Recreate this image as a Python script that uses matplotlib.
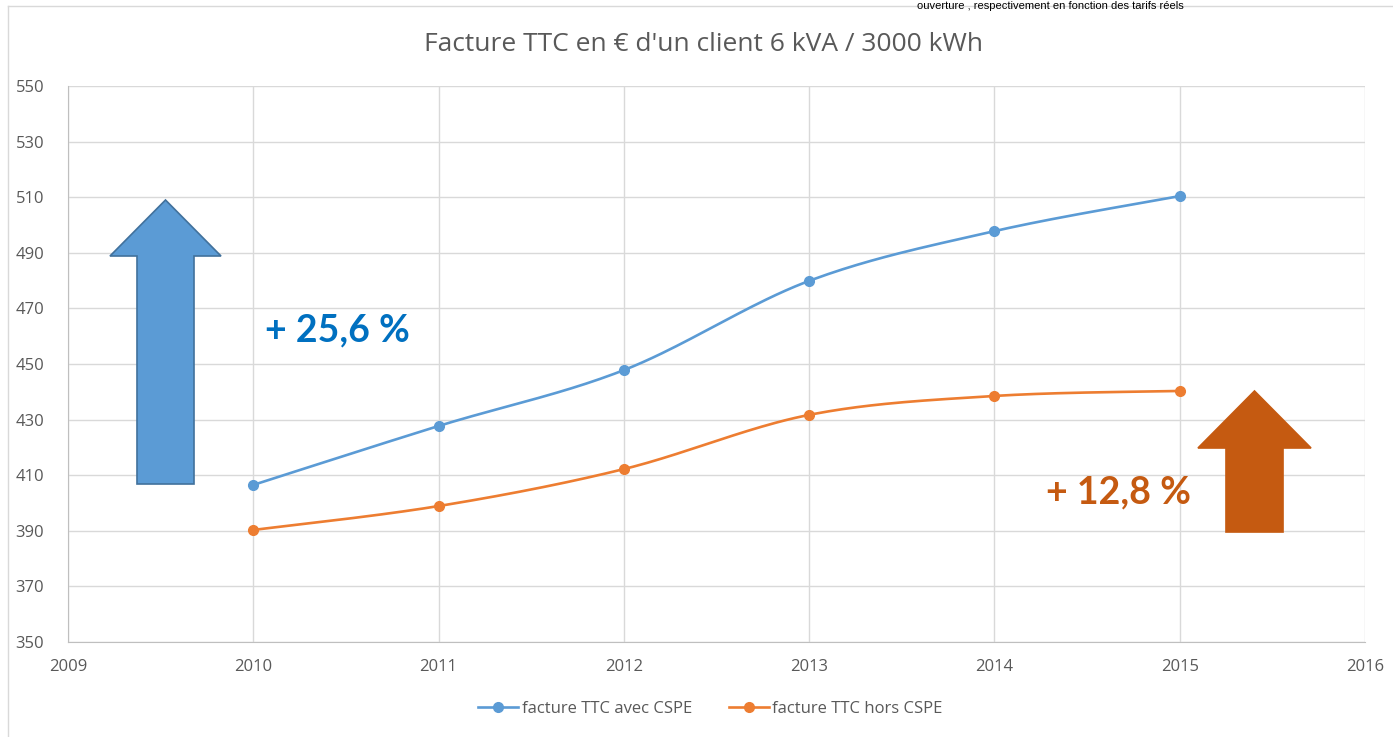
import numpy as np
import matplotlib
matplotlib.use("Agg")
import matplotlib.pyplot as plt
from matplotlib.patches import Polygon

plt.rcParams["font.family"] = ["Open Sans", "DejaVu Sans"]

# -------------------------
# données
# -------------------------
annees = [2010, 2011, 2012, 2013, 2014, 2015]
avec_cspe = [406.5, 427.7, 447.8, 479.9, 497.8, 510.4]
hors_cspe = [390.3, 398.9, 412.2, 431.7, 438.5, 440.3]
hausse_avec = "+ 25,6 %"
hausse_hors = "+ 12,8 %"
titre = "Facture TTC en € d'un client 6 kVA / 3000 kWh"

BLEU = "#5B9BD5"
ORANGE = "#ED7D31"
GRIS = "#595959"


def lisser(x, y, n=40):
    # courbe lissée façon Excel (Bezier / Catmull-Rom)
    x = np.asarray(x, float)
    y = np.asarray(y, float)
    px = np.concatenate([[x[0]], x, [x[-1]]])
    py = np.concatenate([[y[0]], y, [y[-1]]])
    xs, ys = [], []
    t = np.linspace(0, 1, n)
    for i in range(1, len(px) - 2):
        p0 = np.array([px[i], py[i]])
        p3 = np.array([px[i + 1], py[i + 1]])
        p1 = p0 + (np.array([px[i + 1], py[i + 1]]) - np.array([px[i - 1], py[i - 1]])) / 6
        p2 = p3 - (np.array([px[i + 2], py[i + 2]]) - np.array([px[i], py[i]])) / 6
        b = ((1 - t) ** 3)[:, None] * p0 + (3 * (1 - t) ** 2 * t)[:, None] * p1 \
            + (3 * (1 - t) * t ** 2)[:, None] * p2 + (t ** 3)[:, None] * p3
        xs.extend(b[:, 0])
        ys.extend(b[:, 1])
    return xs, ys


fig = plt.figure(figsize=(13.93, 7.37), dpi=100)
ax = fig.add_axes([0.0488, 0.1289, 0.9311, 0.7544])

for vals, coul, nom in [(avec_cspe, BLEU, "facture TTC avec CSPE"),
                        (hors_cspe, ORANGE, "facture TTC hors CSPE")]:
    sx, sy = lisser(annees, vals)
    ax.plot(sx, sy, color=coul, lw=1.9, solid_capstyle="round", zorder=3)
    ax.plot(annees, vals, "o", color=coul, ms=7, zorder=4)
    ax.plot([], [], "-o", color=coul, lw=1.9, ms=7, label=nom)

ax.set_xlim(2009, 2016)
ax.set_ylim(350, 550)
ax.set_xticks(range(2009, 2017))
ax.set_yticks(range(350, 551, 20))
ax.grid(True, color="#D9D9D9", lw=1)
ax.set_axisbelow(True)
for s in ["top", "right"]:
    ax.spines[s].set_visible(False)
for s in ["left", "bottom"]:
    ax.spines[s].set_color("#BFBFBF")
ax.tick_params(length=0, labelsize=12, colors=GRIS, pad=12)
ax.tick_params(axis="y", pad=17)

fig.text(0.505, 0.94, titre, ha="center", va="center", fontsize=19, color=GRIS)

# flèches
def fleche(x0, x1, xh0, xh1, yb, yh, yt, fc, ec):
    xm = (x0 + x1) / 2
    pts = [(x0, yb), (x1, yb), (x1, yh), (xh1, yh), (xm, yt), (xh0, yh), (x0, yh)]
    fig.patches.append(Polygon([(px / 1393, 1 - py / 737) for px, py in pts],
                               closed=True, fc=fc, ec=ec, lw=1.2,
                               transform=fig.transFigure, zorder=5))

fleche(137, 194, 110, 221, 484, 256, 200, BLEU, "#41719C")
fleche(1226, 1283, 1198, 1311, 532, 448, 391, "#C55A11", "#C55A11")

fig.text(337 / 1393, 1 - 330 / 737, hausse_avec, ha="center", va="center",
         fontsize=27, fontweight="bold", color="#0070C0", family=["Lato", "DejaVu Sans"])
fig.text(1119 / 1393, 1 - 492 / 737, hausse_hors, ha="center", va="center",
         fontsize=27, fontweight="bold", color="#C55A11", family=["Lato", "DejaVu Sans"])

leg = fig.legend(loc="center", bbox_to_anchor=(0.51, 1 - 709 / 737), ncol=2,
                 frameon=False, fontsize=12, handlelength=2.4, columnspacing=2.2,
                 handletextpad=0.2)
for t in leg.get_texts():
    t.set_color(GRIS)

# bordure du graphique et texte coupé en haut
fig.add_artist(plt.Line2D([8 / 1393, 8 / 1393], [0, 1 - 6 / 737], color="#D9D9D9", lw=1))
fig.add_artist(plt.Line2D([8 / 1393, 1], [1 - 6 / 737, 1 - 6 / 737], color="#D9D9D9", lw=1))
fig.text(1050 / 1393, 0.999, "ouverture , respectivement en fonction des tarifs réels",
         ha="center", va="top", fontsize=8, color="black",
         family=["Liberation Sans", "DejaVu Sans"])

fig.savefig("out.png", dpi=100, facecolor="white")
